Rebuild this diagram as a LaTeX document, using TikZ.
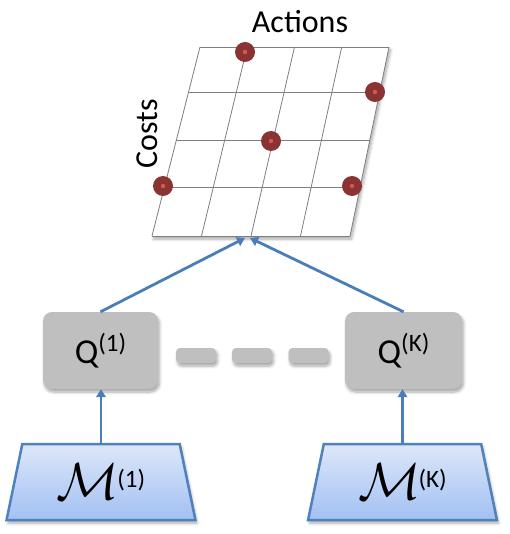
\documentclass[tikz,border=0pt]{standalone}
\usepackage{fontspec}
\usepackage{graphicx}
\setmainfont{Carlito}
\usetikzlibrary{shapes.geometric,shadows,shadows.blur,arrows.meta,calc}
\definecolor{arrowblue}{HTML}{4A7EBB}
\definecolor{trapborder}{HTML}{4F81BD}
\definecolor{traptop}{HTML}{DDE7F9}
\definecolor{trapbot}{HTML}{A2C0F3}
\definecolor{qgray}{HTML}{BFBFBF}
\definecolor{dotred}{HTML}{8B3232}
\definecolor{dotcen}{HTML}{CF5A5A}
\definecolor{gridgray}{HTML}{7F7F7F}
\tikzset{
  softshadow/.style={blur shadow={shadow xshift=1.5pt,shadow yshift=-3pt,shadow blur radius=3pt,shadow blur steps=6,shadow opacity=35}},
  qbox/.style={draw=none,fill=qgray,rounded corners=9pt,minimum height=77pt,softshadow,font=\fontsize{35}{37}\selectfont,inner sep=0pt},
  dashbox/.style={draw=none,fill=qgray,rounded corners=4pt,minimum width=40pt,minimum height=15pt,softshadow,inner sep=0pt},
  trapbox/.style={trapezium,trapezium stretches=true,draw=trapborder,line width=2.5pt,top color=traptop,bottom color=trapbot,minimum width=189pt,minimum height=76pt,trapezium angle=76,softshadow,inner sep=0pt},
  conn/.style={draw=arrowblue,line width=2.8pt,-{Triangle[length=8pt,width=9.5pt]}},
  gline/.style={draw=gridgray,line width=0.8pt},
  dot/.style={circle,fill=dotred,minimum size=20pt,inner sep=0pt,path picture={\fill[dotcen] (path picture bounding box.center) circle (2.2pt);}},
  lbl/.style={font=\fontsize{32}{34}\selectfont,inner sep=0pt}
}
\newcommand{\supq}[1]{\raisebox{12pt}{\fontsize{25}{27}\selectfont(#1)}}
\newcommand{\calm}[1]{\raisebox{-4pt}{\scalebox{5.2}{$\mathcal{M}$}}\hspace{-2pt}\raisebox{8pt}{\fontsize{25}{27}\selectfont(#1)}}
\begin{document}
\begin{tikzpicture}[x=1pt,y=-1pt]
\useasboundingbox (0,0) rectangle (509,534);
% grid corners
\coordinate (tl) at (200,47);
\coordinate (tr) at (389,47);
\coordinate (bl) at (152,236);
\coordinate (br) at (350,236);
\fill[white,softshadow] (tl) -- (tr) -- (br) -- (bl) -- cycle;
\foreach \i in {0,1,2,3,4}{
  \draw[gline] ($(tl)!\i/4!(tr)$) -- ($(bl)!\i/4!(br)$);
}
\draw[gline] (tl) -- (tr);
\draw[gline] ({200-48*45/189},92) -- ({389-39*45/189},92);
\draw[gline] ({200-48*93/189},140) -- ({389-39*93/189},140);
\draw[gline] ({200-48*140/189},187) -- ({389-39*140/189},187);
\draw[gline] (bl) -- (br);
% dots
\node[dot] (d1) at (245,52) {};
\node[dot] (d2) at (375,92) {};
\node[dot] (d3) at (271,141) {};
\node[dot] (d4) at (163,186) {};
\node[dot] (d5) at (352,186) {};
% labels
\node[lbl] (actions) at (300,22) {Actions};
\node[lbl,rotate=90] (costs) at (147,134) {Costs};
% Q boxes
\node[qbox,minimum width=115pt] (q1) at (100.5,350.5) {Q\supq{1}};
\node[qbox,minimum width=117pt] (qk) at (403.5,350.5) {Q\supq{K}};
\node[dashbox] (da) at (196,355.5) {};
\node[dashbox] (db) at (252,355.5) {};
\node[dashbox] (dc) at (308.5,355.5) {};
% trapezoids
\node[trapbox] (m1) at (101,482) {\calm{1}};
\node[trapbox] (mk) at (402.5,482) {\calm{K}};
% connectors
\coordinate (gl) at (245,238);
\coordinate (gr) at (250,238);
\draw[conn] (m1.north) -- (m1.north |- q1.south);
\draw[conn] (mk.north) -- (mk.north |- qk.south);
\draw[conn] (q1.north) -- (gl);
\draw[conn] (qk.north) -- (gr);
\end{tikzpicture}
\end{document}
